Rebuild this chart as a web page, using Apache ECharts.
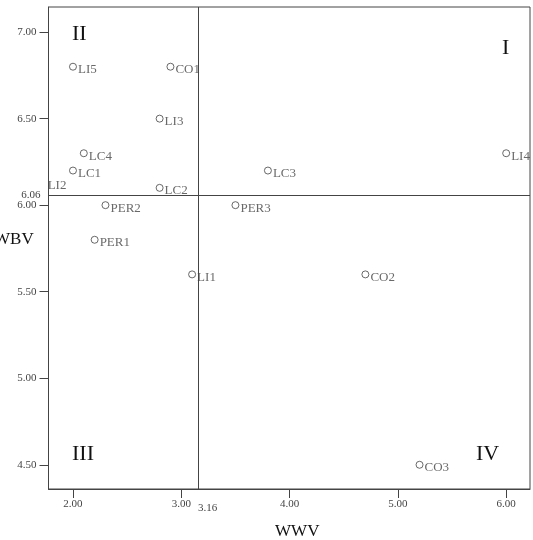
<!DOCTYPE html>
<html>
<head>
<meta charset="utf-8">
<script src="https://cdn.jsdelivr.net/npm/echarts@6/dist/echarts.min.js"></script>
<style>html,body{margin:0;padding:0;background:#fff;}#c{width:533px;height:540px;}</style>
</head>
<body>
<div id="c"></div>
<script>
var names = ['LI5','CO1','LI3','LC4','LC1','LI2','LC2','LC3','LI4','PER2','PER3','PER1','LI1','CO2','CO3'];
var wwv   = [2.0, 2.9, 2.8, 2.1, 2.0, 1.72, 2.8, 3.8, 6.0, 2.3, 3.5, 2.2, 3.1, 4.7, 5.2];
var wbv   = [6.8, 6.8, 6.5, 6.3, 6.2, 6.13, 6.1, 6.2, 6.3, 6.0, 6.0, 5.8, 5.6, 5.6, 4.5];
var hiddenPoints = ['LI2'];
var xTicks = [2, 3, 4, 5, 6];
var yTicks = [4.5, 5, 5.5, 6, 6.5, 7];
var xMean = 3.16;
var yMean = 6.06;
var quadrants = ['I', 'II', 'III', 'IV'];
var xName = 'WWV';
var yName = 'WBV';

var serif = '"Liberation Serif","DejaVu Serif",serif';
var data = names.map(function (n, i) {
  var d = { name: n, value: [wwv[i], wbv[i]] };
  if (hiddenPoints.indexOf(n) >= 0) d.itemStyle = { color: 'rgba(0,0,0,0)', borderColor: 'rgba(0,0,0,0)' };
  return d;
});

var chart = echarts.init(document.getElementById('c'));
chart.setOption({
  animation: false,
  grid: { left: 48.5, right: 3, top: 7, bottom: 51, show: true, borderColor: '#444', borderWidth: 1,
    containLabel: false, outerBoundsMode: 'none' },
  xAxis: {
    type: 'value', min: 1.774, max: 6.22,
    name: xName, nameLocation: 'middle', nameGap: 34,
    nameTextStyle: { fontFamily: serif, fontSize: 17, color: '#111', padding: [0, 0, 0, 16] },
    axisLine: { show: true, onZero: false, lineStyle: { color: '#444' } },
    axisTick: { show: true, length: 9, customValues: xTicks, lineStyle: { color: '#444' } },
    axisLabel: { customValues: xTicks, margin: 10, fontFamily: serif, fontSize: 11, color: '#444',
      formatter: function (v) { return v.toFixed(2); } },
    splitLine: { show: false }
  },
  yAxis: {
    type: 'value', min: 4.36, max: 7.145,
    axisLine: { show: true, onZero: false, lineStyle: { color: '#444' } },
    axisTick: { show: true, length: 9, customValues: yTicks, lineStyle: { color: '#444' } },
    axisLabel: { customValues: yTicks, margin: 12, fontFamily: serif, fontSize: 11, color: '#444',
      formatter: function (v) { return v.toFixed(2); } },
    splitLine: { show: false }
  },
  graphic: [
    { type: 'text', left: -6, top: 231, style: { text: yName, font: '17px ' + serif, fill: '#111' } },
    { type: 'text', left: 72, top: 23, style: { text: quadrants[1], font: '22px ' + serif, fill: '#111' } },
    { type: 'text', left: 502, top: 37, style: { text: quadrants[0], font: '22px ' + serif, fill: '#111' } },
    { type: 'text', left: 72, top: 443, style: { text: quadrants[2], font: '22px ' + serif, fill: '#111' } },
    { type: 'text', left: 476, top: 443, style: { text: quadrants[3], font: '22px ' + serif, fill: '#111' } }
  ],
  series: [{
    type: 'scatter',
    clip: false,
    symbol: 'circle',
    symbolSize: 7,
    itemStyle: { color: '#fff', borderColor: '#444', borderWidth: 1 },
    label: {
      show: true, position: 'right', distance: 1, offset: [0, 3],
      formatter: '{b}', fontFamily: serif, fontSize: 13, color: '#444'
    },
    data: data,
    markLine: {
      silent: true, symbol: 'none',
      lineStyle: { color: '#444', width: 1, type: 'solid' },
      data: [
        { xAxis: xMean, label: { show: true, position: 'start', formatter: xMean.toFixed(2), offset: [9, 9],
            fontFamily: serif, fontSize: 11, color: '#444' } },
        { yAxis: yMean, label: { show: true, position: 'start', formatter: yMean.toFixed(2), distance: 8,
            fontFamily: serif, fontSize: 11, color: '#444' } }
      ]
    }
  }]
});
</script>
</body>
</html>
